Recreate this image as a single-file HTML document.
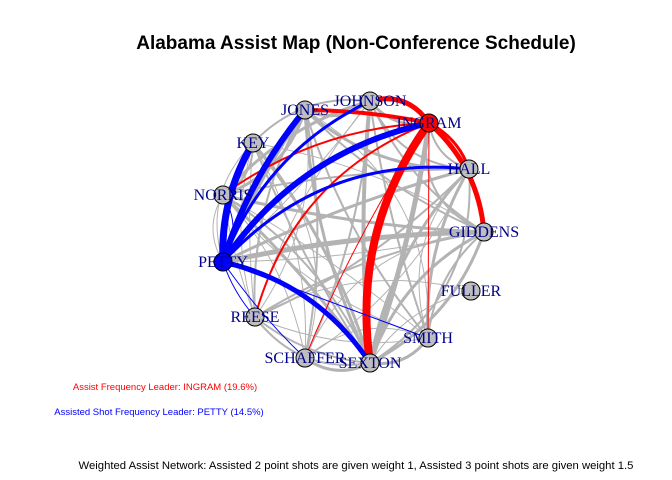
<!DOCTYPE html>
<html><head><meta charset="utf-8"><style>
body{margin:0;background:#fff;width:672px;height:480px;overflow:hidden}
svg{display:block}
</style></head><body>
<svg id="chart" width="672" height="480" xmlns="http://www.w3.org/2000/svg">
<rect width="672" height="480" fill="#fff"/>
<text x="356" y="49" text-anchor="middle" font-family="Liberation Sans, sans-serif" font-weight="bold" font-size="19">Alabama Assist Map (Non-Conference Schedule)</text>
<g id="edges"></g>
<g id="nodes"></g>
<text x="165" y="390" text-anchor="middle" fill="#ff0000" font-family="Liberation Sans, sans-serif" font-size="9.5">Assist Frequency Leader: INGRAM (19.6%)</text>
<text x="159" y="415" text-anchor="middle" fill="#0000ff" font-family="Liberation Sans, sans-serif" font-size="9.5">Assisted Shot Frequency Leader: PETTY (14.5%)</text>
<text x="356" y="469" text-anchor="middle" font-family="Liberation Sans, sans-serif" font-size="11.3">Weighted Assist Network: Assisted 2 point shots are given weight 1, Assisted 3 point shots are given weight 1.5</text>
</svg>
<script>
const nodeNames=["JOHNSON","INGRAM","HALL","GIDDENS","FULLER","SMITH","SEXTON","SCHAFFER","REESE","PETTY","NORRIS","KEY","JONES"];
const nodeX=[370,429,469,484,471,428,370,305,255,223,223,253,305];
const nodeY=[101,123,169,232,291,338,363,358,317,262,195,143,110];
const nodeFill=["#bebebe","#ff0000","#bebebe","#bebebe","#bebebe","#bebebe","#bebebe","#bebebe","#bebebe","#0000ff","#bebebe","#bebebe","#bebebe"];
// edges: from, to, weight, curvature
const grayFrom=[12,12,12,12,12,12,12,0,0,0,0,0,0,0,2,2,2,2,2,3,3,3,3,5,5,5,6,6,6,6,6,7,7,8,8,10,10,10,10,11,11,11,9,9,9,1,1,1,0,12,2,3,5,7,8,11,10,4,4,12,0,2,6,3,7,8];
const grayTo  =[0,2,3,6,7,8,10,2,3,6,7,8,10,11,10,6,8,7,9,10,6,8,9,10,8,7,10,11,8,3,2,10,11,10,11,11,3,5,6,8,6,3,3,2,0,6,2,3,1,9,5,7,12,11,12,9,9,6,8,5,5,5,5,5,6,6];
const grayW   =[3,3,2,3,2,2,3,2,2,4,2,1,3,2,2,3,2,1,3,2,3,2,5,1,1,1,3,3,2,3,2,1,1,1,1,2,3,1,2,1,2,1,1,1,1,5,2,2,3,3,1,1,1,1,1,1,1,1,1,2,2,3,3,2,3,2];
const grayC   =[0.3,0.2,0.1,0.1,-0.1,0.15,-0.25,0.3,0.15,0.05,-0.1,0.1,0.15,0.25,0.05,0.15,-0.1,-0.15,0.05,-0.05,0.2,0.1,0.05,0.05,-0.15,0.3,0.05,0.1,-0.15,0.2,0.3,0.15,0.15,-0.05,-0.15,0.3,0.05,0.15,-0.15,0.05,0.05,-0.1,0.05,-0.05,0.05,-0.05,0.3,0.4,0.3,0.05,0.3,0.3,0.3,0.3,0.2,0.3,0.3,0.2,0.2,0.1,0.05,0.15,0.3,0.2,0.3,0.3];
const redFrom=[1,1,1,1,1,1,1,1,1];
const redTo  =[0,3,6,12,10,8,7,5,2];
const redW   =[5,5,8,4,2,2,1,1,3];
const redC   =[0.35,-0.2,0.2,0.05,0.15,0.25,0.05,0,-0.2];
const blueFrom=[9,9,9,9,9,9,9,9,9,9];
const blueTo  =[11,12,1,2,6,5,8,10,7,0];
const blueW   =[7,6,6,3,5,1,1,1,1,3];
const blueC   =[-0.15,-0.1,-0.2,-0.25,-0.2,0,0.1,0.3,0.05,-0.2];
const NS="http://www.w3.org/2000/svg";
const eg=document.getElementById('edges'), ng=document.getElementById('nodes');
function edge(a,b,w,c,col,name){
  const x1=nodeX[a],y1=nodeY[a],x2=nodeX[b],y2=nodeY[b];
  const mx=(x1+x2)/2,my=(y1+y2)/2,dx=x2-x1,dy=y2-y1;
  const cx=mx-dy*c, cy=my+dx*c;
  const p=document.createElementNS(NS,'path');
  p.setAttribute('d',`M${x1},${y1} Q${cx},${cy} ${x2},${y2}`);
  p.setAttribute('fill','none');p.setAttribute('stroke',col);
  p.setAttribute('stroke-width',w);
  
  
  eg.appendChild(p);
}
grayFrom.forEach((f,i)=>edge(f,grayTo[i],grayW[i],grayC[i],'#b3b3b3','assist-edge'));
redFrom.forEach((f,i)=>edge(f,redTo[i],redW[i],redC[i],'#ff0000','ingram-assist-edge'));
blueFrom.forEach((f,i)=>edge(f,blueTo[i],blueW[i],blueC[i],'#0000ff','petty-assisted-edge'));
nodeNames.forEach((n,i)=>{
  const c=document.createElementNS(NS,'circle');
  c.setAttribute('cx',nodeX[i]);c.setAttribute('cy',nodeY[i]);c.setAttribute('r',9);
  c.setAttribute('fill',nodeFill[i]);c.setAttribute('stroke','#000');
  
  
  ng.appendChild(c);
});
nodeNames.forEach((n,i)=>{
  const t=document.createElementNS(NS,'text');
  t.setAttribute('x',nodeX[i]);t.setAttribute('y',nodeY[i]+5);
  t.setAttribute('text-anchor','middle');t.setAttribute('fill','#00008b');
  t.setAttribute('font-family','Liberation Serif, serif');t.setAttribute('font-size','16');
  t.textContent=n;
  
  
  ng.appendChild(t);
});
</script>
</body></html>
